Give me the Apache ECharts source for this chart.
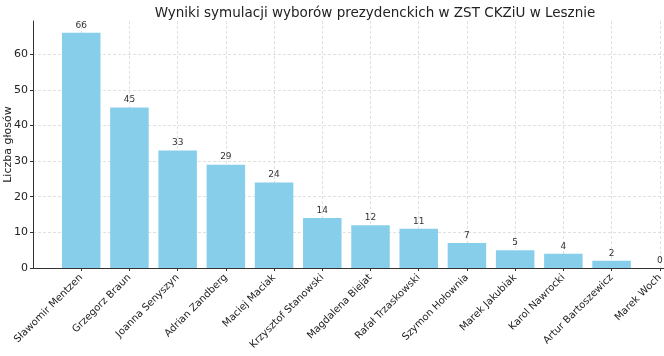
<!DOCTYPE html>
<html><head><meta charset="utf-8">
<script src="https://cdn.jsdelivr.net/npm/echarts@6/dist/echarts.min.js"></script>
<style>html,body{margin:0;padding:0;background:#fff}#c{width:664px;height:356px}</style>
</head><body><div id="c"></div>
<script>
const title = 'Wyniki symulacji wyborów prezydenckich w ZST CKZiU w Lesznie';
const yName = 'Liczba głosów';
const candidates = ['Sławomir Mentzen','Grzegorz Braun','Joanna Senyszyn','Adrian Zandberg','Maciej Maciak','Krzysztof Stanowski','Magdalena Biejat','Rafał Trzaskowski','Szymon Hołownia','Marek Jakubiak','Karol Nawrocki','Artur Bartoszewicz','Marek Woch'];
const votes = [66,45,33,29,24,14,12,11,7,5,4,2,0];
const yTicks = [0,10,20,30,40,50,60];

const font = 'DejaVu Sans';
const chart = echarts.init(document.getElementById('c'), null, {renderer:'canvas'});
chart.setOption({
  animation:false,
  backgroundColor:'#fff',
  title:{text:title,left:370,textAlign:'center',top:1,textStyle:{fontFamily:font,fontSize:13.5,fontWeight:'normal',color:'#222'}},
  grid:{left:33,right:-44,top:21,bottom:88,containLabel:false,outerBoundsMode:'none'},
  xAxis:{type:'value',min:-1,max:candidates.length,interval:1,
    axisLine:{show:true,onZero:false,lineStyle:{color:'#333',width:1}},
    axisTick:{show:true,length:3,lineStyle:{color:'#333'},
      customValues: candidates.map((_,i)=>i)},
    axisLabel:{rotate:45,fontFamily:font,fontSize:10,color:'#222',margin:8,
      customValues: candidates.map((_,i)=>i),
      formatter:v=>candidates[v] ?? ''},
    splitLine:{show:true,lineStyle:{color:'#d8d8d8',type:[3,2],width:0.8}}
  },
  yAxis:{type:'value',min:0,max:69.3,interval:10,name:yName,nameLocation:'middle',nameGap:19,nameMoveOverlap:false,
    nameTextStyle:{fontFamily:font,fontSize:11,color:'#222'},
    axisLine:{show:true,onZero:false,lineStyle:{color:'#333',width:1}},
    axisTick:{show:true,length:3,lineStyle:{color:'#333'},customValues:yTicks},
    axisLabel:{fontFamily:font,fontSize:11,color:'#222',margin:5,customValues:yTicks},
    splitLine:{show:true,lineStyle:{color:'#d8d8d8',type:[3,2],width:0.8}}
  },
  series:[{type:'bar',barWidth:38.5,
    data:votes.map((v,i)=>[i,v]),
    itemStyle:{color:'#87CEEB'},
    label:{show:true,position:'top',distance:3,fontFamily:font,fontSize:9,color:'#333',formatter:p=>p.value[1]}
  }]
});
</script></body></html>
